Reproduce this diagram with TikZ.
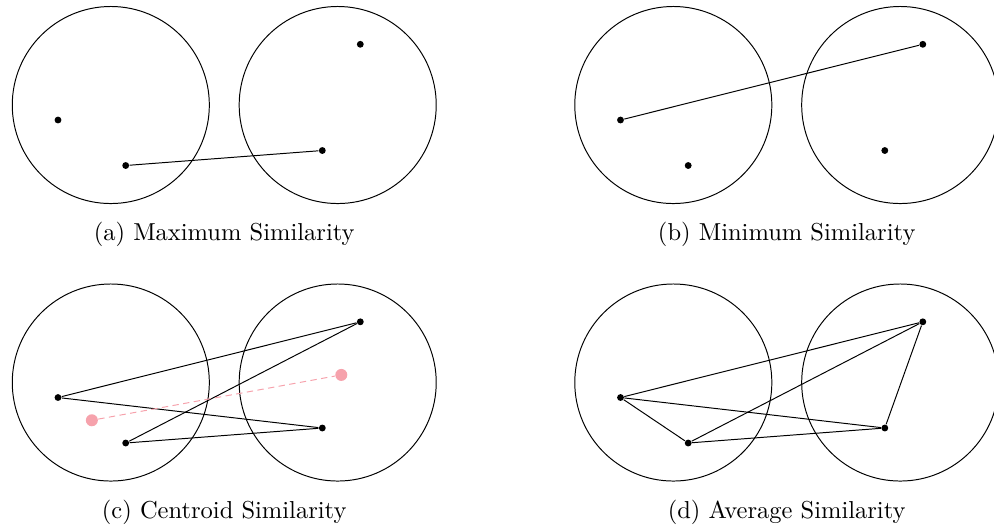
\documentclass[tikz,border=0pt]{standalone}
\usepackage{xcolor}
\usepackage{tikz}
\usetikzlibrary{positioning, calc}

\definecolor{centroidpink}{RGB}{246,162,172}

\begin{document}
\begin{tikzpicture}[
  x=0.408pt, y=-0.408pt,
  cluster/.style={circle, draw, inner sep=0pt, minimum size=80.4pt},
  point/.style={circle, fill=black, inner sep=0pt, minimum size=2.8pt},
  centroid/.style={circle, fill=centroidpink, inner sep=0pt, minimum size=4.9pt},
  link/.style={draw=black},
  centrolink/.style={draw=centroidpink, dash pattern=on 2.6pt off 1.8pt},
  caption/.style={anchor=base, font=\normalsize}
]
\useasboundingbox (0,0) rectangle (994,527);

% ---------------------------------------------------
% Panel Grid
% ---------------------------------------------------
\def\xLeft{0}
\def\xRight{562.5}
\def\yTop{0}
\def\yBottom{277.5}

% ---------------------------------------------------
% (a) Maximum Similarity
% ---------------------------------------------------
\node[cluster] (aL) at (\xLeft+110.8, \yTop+105) {};
\node[cluster] (aR) at (\xLeft+337.7, \yTop+105) {};

\node[point] (a1) at (\xLeft+58, \yTop+120) {};
\node[point] (a2) at (\xLeft+125.7, \yTop+165.5) {};
\node[point] (a3) at (\xLeft+360.3, \yTop+44.3) {};
\node[point] (a4) at (\xLeft+322.3, \yTop+150.5) {};

\draw[link] (a2) -- (a4);

\node[caption] (capA) at (\xLeft+224.2, \yTop+240.5) {(a) Maximum Similarity};

% ---------------------------------------------------
% (b) Minimum Similarity
% ---------------------------------------------------
\node[cluster] (bL) at (\xRight+110.8, \yTop+105) {};
\node[cluster] (bR) at (\xRight+337.7, \yTop+105) {};

\node[point] (b1) at (\xRight+58, \yTop+120) {};
\node[point] (b2) at (\xRight+125.7, \yTop+165.5) {};
\node[point] (b3) at (\xRight+360.3, \yTop+44.3) {};
\node[point] (b4) at (\xRight+322.3, \yTop+150.5) {};

\draw[link] (b1) -- (b3);

\node[caption] (capB) at (\xRight+224.2, \yTop+240.5) {(b) Minimum Similarity};

% ---------------------------------------------------
% (c) Centroid Similarity
% ---------------------------------------------------
\node[cluster] (cL) at (\xLeft+110.8, \yBottom+105) {};
\node[cluster] (cR) at (\xLeft+337.7, \yBottom+105) {};

\node[point] (c1) at (\xLeft+58, \yBottom+120) {};
\node[point] (c2) at (\xLeft+125.7, \yBottom+165.5) {};
\node[point] (c3) at (\xLeft+360.3, \yBottom+44.3) {};
\node[point] (c4) at (\xLeft+322.3, \yBottom+150.5) {};

\node[centroid] (cmL) at ($(c1.center)!0.5!(c2.center)$) {};
\node[centroid] (cmR) at ($(c3.center)!0.5!(c4.center)$) {};

\draw[link] (c1) -- (c3);
\draw[link] (c1) -- (c4);
\draw[link] (c2) -- (c3);
\draw[link] (c2) -- (c4);
\draw[centrolink] (cmL) -- (cmR);

\node[caption] (capC) at (\xLeft+224.2, \yBottom+240.5) {(c) Centroid Similarity};

% ---------------------------------------------------
% (d) Average Similarity
% ---------------------------------------------------
\node[cluster] (dL) at (\xRight+110.8, \yBottom+105) {};
\node[cluster] (dR) at (\xRight+337.7, \yBottom+105) {};

\node[point] (d1) at (\xRight+58, \yBottom+120) {};
\node[point] (d2) at (\xRight+125.7, \yBottom+165.5) {};
\node[point] (d3) at (\xRight+360.3, \yBottom+44.3) {};
\node[point] (d4) at (\xRight+322.3, \yBottom+150.5) {};

\draw[link] (d1) -- (d2);
\draw[link] (d1) -- (d3);
\draw[link] (d1) -- (d4);
\draw[link] (d2) -- (d3);
\draw[link] (d2) -- (d4);
\draw[link] (d3) -- (d4);

\node[caption] (capD) at (\xRight+224.2, \yBottom+240.5) {(d) Average Similarity};

\end{tikzpicture}
\end{document}
